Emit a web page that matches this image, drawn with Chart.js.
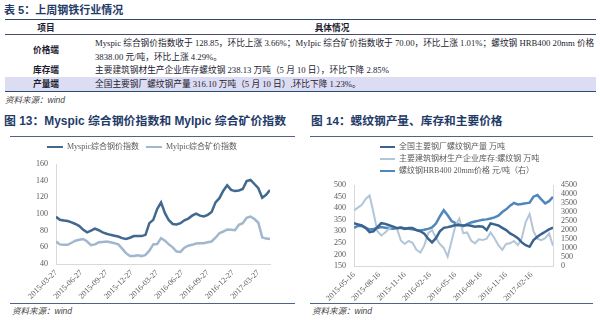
<!DOCTYPE html>
<html>
<head>
<meta charset="utf-8">
<script src="https://cdn.jsdelivr.net/npm/chart.js@4.4.1/dist/chart.umd.min.js"></script>
<style>
  body { margin: 0; width: 600px; height: 322px; overflow: hidden; background: #fff; position: relative;
         font-family: "Liberation Serif", "Noto Sans CJK SC", serif; }
  .abs { position: absolute; white-space: nowrap; }
  .ttl { font-family: "Liberation Sans", "Noto Sans CJK SC", sans-serif; font-weight: bold; color: #1f3b68; }
  .cell { font-size: 8.7px; line-height: 12px; color: #1c1c30; }
  .hd { text-align: center; font-weight: bold; }
  .lbl { left: 5px; width: 82px; text-align: center; font-weight: bold; }
  .src { font-size: 8.5px; line-height: 12px; font-style: italic; color: #444; }
  .src b { font-family: "Liberation Sans", sans-serif; font-weight: normal; }
  .rule { border-top: 1.5px solid #4d6585; }
</style>
</head>
<body>
  <!-- table 5 -->
  <div class="abs ttl" style="left:4px;top:3px;font-size:11px;line-height:14px">表 5：上周钢铁行业情况</div>
  <div class="abs" style="left:5px;top:19px;width:591px;border-top:1.5px solid #2b4a74"></div>
  <div class="abs cell hd" style="left:5px;width:82px;top:22px">项目</div>
  <div class="abs cell hd" style="left:87px;width:490px;top:22px">具体情况</div>
  <div class="abs" style="left:5px;top:34px;width:591px;border-top:1px solid #4a4a6a"></div>

  <div class="abs cell lbl" style="top:44px">价格端</div>
  <div class="abs cell" style="left:95px;top:37px;line-height:13.5px">Myspic 综合钢价指数收于 128.85，环比上涨 3.66%；MyIpic 综合矿价指数收于 70.00，环比上涨 1.01%；螺纹钢 HRB400 20mm 价格<br>3838.00 元/吨，环比上涨 4.29%。</div>

  <div class="abs cell lbl" style="top:64px">库存端</div>
  <div class="abs cell" style="left:95px;top:64px">主要建筑钢材生产企业库存螺纹钢 238.13 万吨（5 月 10 日），环比下降 2.85%</div>

  <div class="abs" style="left:5px;top:77px;width:591px;height:14px;background:#dcdcf3"></div>
  <div class="abs cell lbl" style="top:78px">产量端</div>
  <div class="abs cell" style="left:95px;top:78px">全国主要钢厂螺纹钢产量 316.10 万吨（5 月 10 日）,环比下降 1.23%。</div>
  <div class="abs" style="left:5px;top:91px;width:591px;border-top:1.2px solid #2b4a74"></div>
  <div class="abs src" style="left:5px;top:94px">资料来源：<b>wind</b></div>

  <!-- figure titles -->
  <div class="abs ttl" style="left:4px;top:113px;font-size:11.9px;line-height:16px">图 13：Myspic 综合钢价指数和 Mylpic 综合矿价指数</div>
  <div class="abs ttl" style="left:311px;top:113px;font-size:11.7px;line-height:16px">图 14：螺纹钢产量、库存和主要价格</div>
  <div class="abs rule" style="left:10px;top:136px;width:285px"></div>
  <div class="abs rule" style="left:310px;top:136px;width:283px"></div>

  <canvas id="steelChart" class="abs" style="left:0;top:139px" width="300" height="163"></canvas>
  <canvas id="rebarChart" class="abs" style="left:300px;top:139px" width="300" height="163"></canvas>

  <div class="abs rule" style="left:10px;top:303px;width:285px"></div>
  <div class="abs rule" style="left:310px;top:303px;width:283px"></div>
  <div class="abs src" style="left:12px;top:305px">资料来源：<b>wind</b></div>
  <div class="abs src" style="left:312px;top:305px">资料来源：<b>wind</b></div>

<script>
// Figure 13: weekly index, one value every 2 weeks from 2015-03-27
const steelTicks = ["2015-03-27", "2015-06-27", "2015-09-27", "2015-12-27", "2016-03-27",
  "2016-06-27", "2016-09-27", "2016-12-27", "2017-03-27"];
const steelWeeks = Array.from({ length: 56 }, (_, i) => i * 2);
const myspic = [96.6, 93, 92.2, 91.5, 90, 88, 85.5, 81, 78, 80, 82.5, 80.5, 78, 76.3, 75, 74,
  73, 71, 70, 71.5, 73.5, 73.5, 73.5, 75, 89, 93, 106, 114, 101, 92.5, 88, 87.5, 89, 92.5,
  94.5, 98, 100.5, 98, 97, 99, 102.5, 114, 119, 128, 134.5, 129, 127.5, 128.3, 130, 139.5,
  141, 136, 131, 119.5, 123, 128.9];
const mylpic = [67, 63.5, 63, 63, 65.5, 68, 69, 70, 67, 62.5, 63.5, 66, 66.5, 67, 66, 65,
  63.5, 58.5, 53, 49.5, 49.5, 50.5, 49.5, 51, 56, 63.5, 64, 71, 68, 63.5, 60, 55, 54.5, 59.5,
  62, 63, 64.5, 65, 65, 66, 67, 71.5, 77, 79, 81.5, 81, 80.5, 87, 89, 95.5, 97, 94, 89.5,
  72, 70.5, 70];

// Figure 14: weekly index, one value every 2 weeks from 2015-05-16
const rebarTicks = ["2015-05-16", "2015-08-16", "2015-11-16", "2016-02-16", "2016-05-16",
  "2016-08-16", "2016-11-16", "2017-02-16"];
const rebarWeeks = Array.from({ length: 52 }, (_, i) => i * 2);
const output = [335, 330, 325, 315, 296, 300, 318, 335, 332, 326, 320, 313, 316, 310, 314, 314,
  305, 300, 290, 268, 252, 270, 300, 315, 318, 322, 327, 326, 325, 327, 324, 320, 322, 320,
  305, 334, 330, 325, 315, 305, 291, 282, 270, 252, 240, 233, 262, 276, 288, 298, 308, 316];
const stock = [390, 402, 414, 440, 455, 380, 300, 282, 295, 312, 322, 312, 260, 245, 258, 250,
  220, 208, 238, 292, 305, 272, 245, 228, 190, 257, 325, 355, 292, 295, 260, 248, 265, 262,
  268, 295, 270, 240, 220, 245, 248, 258, 240, 270, 340, 375, 300, 268, 262, 270, 290, 238];
const price = [2120, 2230, 2220, 2110, 2035, 2060, 2110, 2160, 2130, 2100, 2070, 2100, 2120,
  2095, 2070, 2035, 2000, 1975, 2010, 2060, 2140, 2360, 2750, 3100, 2820, 2500, 2380, 2300,
  2220, 2330, 2420, 2470, 2520, 2570, 2590, 2640, 2700, 2800, 3000, 3150, 3350, 3500, 3420,
  3450, 3480, 3520, 3850, 3940, 3700, 3480, 3600, 3840];

const greyText = "#595959";
const axisColor = "#d9d9d9";
const tickFont = { family: '"Liberation Serif", "Noto Sans CJK SC", serif', size: 8 };

// move the legend box after layout (legend placement is otherwise fixed by Chart.js)
const legendShift = {
  id: "legendShift",
  afterLayout(chart, args, opts) {
    const lg = chart.legend;
    lg.left += opts.dx || 0;
    lg.right += opts.dx || 0;
    lg.top += opts.dy || 0;
    lg.bottom += opts.dy || 0;
  }
};

// legend items drawn as short flat lines
function lineLegend(chart) {
  return Chart.defaults.plugins.legend.labels.generateLabels(chart)
    .map(item => ({ ...item, fillStyle: item.strokeStyle, lineWidth: 0 }));
}

function toPoints(xs, ys) {
  return xs.map((x, i) => ({ x: x, y: ys[i] }));
}

function dateAxis(max, labels, height) {
  return {
    type: "linear",
    min: 0,
    max: max,
    grid: { display: false, drawTicks: false },
    border: { color: axisColor },
    ticks: {
      stepSize: 13, includeBounds: false, autoSkip: false,
      minRotation: 45, maxRotation: 45, padding: 4,
      font: tickFont, color: greyText,
      callback: v => labels[v / 13] ?? ""
    },
    afterFit: s => { s.height = height; }
  };
}

function valueAxis(pos, min, max, step, width) {
  return {
    position: pos,
    min: min,
    max: max,
    grid: { display: false, drawTicks: false },
    border: { color: axisColor },
    ticks: { stepSize: step, font: tickFont, color: greyText, padding: 8, autoSkip: false,
      callback: v => String(v) },
    afterFit: s => { s.width = width; }
  };
}

new Chart(document.getElementById("steelChart"), {
  type: "line",
  data: {
    datasets: [
      { label: "Myspic综合钢价指数", data: toPoints(steelWeeks, myspic),
        borderColor: "#41698f", borderWidth: 2.5, pointRadius: 0 },
      { label: "Mylpic综合矿价指数", data: toPoints(steelWeeks, mylpic),
        borderColor: "#a2b6ce", borderWidth: 2.5, pointRadius: 0 }
    ]
  },
  options: {
    responsive: false,
    animation: false,
    layout: { padding: { right: 30 } },
    plugins: {
      legend: {
        labels: { font: tickFont, color: greyText, boxWidth: 16, boxHeight: 2, padding: 7,
          generateLabels: lineLegend }
      },
      tooltip: { enabled: false },
      legendShift: { dx: 7, dy: -3 }
    },
    scales: {
      x: dateAxis(110, steelTicks, 38),
      y: valueAxis("left", 40, 160, 20, 56)
    }
  },
  plugins: [legendShift]
});

new Chart(document.getElementById("rebarChart"), {
  type: "line",
  data: {
    datasets: [
      { label: "全国主要钢厂螺纹钢产量 万吨", data: toPoints(rebarWeeks, output),
        borderColor: "#3a6390", borderWidth: 2.5, pointRadius: 0, yAxisID: "y" },
      { label: "主要建筑钢材生产企业库存:螺纹钢 万吨", data: toPoints(rebarWeeks, stock),
        borderColor: "#b3c5d8", borderWidth: 2, pointRadius: 0, yAxisID: "y" },
      { label: "螺纹钢HRB400 20mm价格 元/吨（右）", data: toPoints(rebarWeeks, price),
        borderColor: "#4f87bd", borderWidth: 2.5, pointRadius: 0, yAxisID: "y1" }
    ]
  },
  options: {
    responsive: false,
    animation: false,
    layout: { padding: { right: 12 } },
    plugins: {
      legend: {
        fullSize: false,
        align: "start",
        labels: { font: tickFont, color: greyText, boxWidth: 15, boxHeight: 2, padding: 4,
          generateLabels: lineLegend }
      },
      tooltip: { enabled: false },
      legendShift: { dx: 22, dy: 0 }
    },
    scales: {
      x: dateAxis(102, rebarTicks, 36),
      y: valueAxis("left", 150, 500, 50, 54),
      y1: valueAxis("right", 0, 4500, 500, 35)
    }
  },
  plugins: [legendShift]
});
</script>
</body>
</html>
